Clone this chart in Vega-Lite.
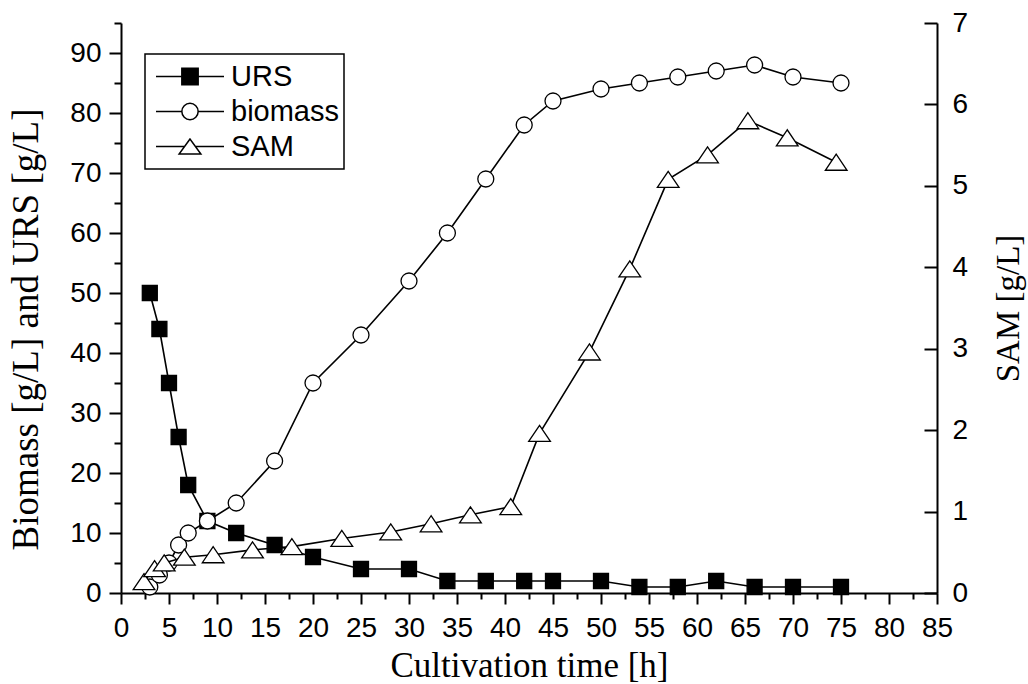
{
  "$schema": "https://vega.github.io/schema/vega-lite/v6.json",
  "width": 816,
  "height": 570,
  "autosize": "none",
  "padding": {"left": 121, "top": 23, "right": 91, "bottom": 91},
  "background": "white",
  "config": {
    "view": {"stroke": null},
    "axis": {
      "grid": false,
      "domainColor": "black",
      "domainWidth": 2,
      "tickColor": "black",
      "tickWidth": 2,
      "labelColor": "black",
      "labelFont": "Liberation Sans",
      "labelFontSize": 28,
      "labelFlush": false,
      "labelOverlap": false,
      "titleColor": "black",
      "titleFont": "Liberation Serif",
      "titleFontWeight": "normal"
    },
    "legend": {"strokeWidth": 1.5, "symbolStrokeWidth": 1.5}
  },
  "data": {
    "values": [
      {"series": "URS", "t": 3, "v": 50},
      {"series": "URS", "t": 4, "v": 44},
      {"series": "URS", "t": 5, "v": 35},
      {"series": "URS", "t": 6, "v": 26},
      {"series": "URS", "t": 7, "v": 18},
      {"series": "URS", "t": 9, "v": 12},
      {"series": "URS", "t": 12, "v": 10},
      {"series": "URS", "t": 16, "v": 8},
      {"series": "URS", "t": 20, "v": 6},
      {"series": "URS", "t": 25, "v": 4},
      {"series": "URS", "t": 30, "v": 4},
      {"series": "URS", "t": 34, "v": 2},
      {"series": "URS", "t": 38, "v": 2},
      {"series": "URS", "t": 42, "v": 2},
      {"series": "URS", "t": 45, "v": 2},
      {"series": "URS", "t": 50, "v": 2},
      {"series": "URS", "t": 54, "v": 1},
      {"series": "URS", "t": 58, "v": 1},
      {"series": "URS", "t": 62, "v": 2},
      {"series": "URS", "t": 66, "v": 1},
      {"series": "URS", "t": 70, "v": 1},
      {"series": "URS", "t": 75, "v": 1},
      {"series": "biomass", "t": 3, "v": 1},
      {"series": "biomass", "t": 4, "v": 3},
      {"series": "biomass", "t": 5, "v": 5},
      {"series": "biomass", "t": 6, "v": 8},
      {"series": "biomass", "t": 7, "v": 10},
      {"series": "biomass", "t": 9, "v": 12},
      {"series": "biomass", "t": 12, "v": 15},
      {"series": "biomass", "t": 16, "v": 22},
      {"series": "biomass", "t": 20, "v": 35},
      {"series": "biomass", "t": 25, "v": 43},
      {"series": "biomass", "t": 30, "v": 52},
      {"series": "biomass", "t": 34, "v": 60},
      {"series": "biomass", "t": 38, "v": 69},
      {"series": "biomass", "t": 42, "v": 78},
      {"series": "biomass", "t": 45, "v": 82},
      {"series": "biomass", "t": 50, "v": 84},
      {"series": "biomass", "t": 54, "v": 85},
      {"series": "biomass", "t": 58, "v": 86},
      {"series": "biomass", "t": 62, "v": 87},
      {"series": "biomass", "t": 66, "v": 88},
      {"series": "biomass", "t": 70, "v": 86},
      {"series": "biomass", "t": 75, "v": 85},
      {"series": "SAM", "t": 2.4, "v": 0.14},
      {"series": "SAM", "t": 3.5, "v": 0.3},
      {"series": "SAM", "t": 4.5, "v": 0.37},
      {"series": "SAM", "t": 6.6, "v": 0.44},
      {"series": "SAM", "t": 9.6, "v": 0.47},
      {"series": "SAM", "t": 13.7, "v": 0.53},
      {"series": "SAM", "t": 17.8, "v": 0.57},
      {"series": "SAM", "t": 23, "v": 0.67},
      {"series": "SAM", "t": 28.1, "v": 0.75},
      {"series": "SAM", "t": 32.3, "v": 0.85},
      {"series": "SAM", "t": 36.4, "v": 0.96},
      {"series": "SAM", "t": 40.6, "v": 1.06},
      {"series": "SAM", "t": 43.6, "v": 1.96},
      {"series": "SAM", "t": 48.8, "v": 2.96},
      {"series": "SAM", "t": 53, "v": 3.98},
      {"series": "SAM", "t": 57, "v": 5.08},
      {"series": "SAM", "t": 61.1, "v": 5.38},
      {"series": "SAM", "t": 65.3, "v": 5.8},
      {"series": "SAM", "t": 69.4, "v": 5.59},
      {"series": "SAM", "t": 74.5, "v": 5.29}
    ]
  },
  "encoding": {
    "x": {
      "field": "t",
      "type": "quantitative",
      "scale": {"domain": [0, 85], "nice": false, "zero": false},
      "axis": {
        "title": "Cultivation time [h]",
        "titleFontSize": 35,
        "titlePadding": 6,
        "values": [0,2.5,5,7.5,10,12.5,15,17.5,20,22.5,25,27.5,30,32.5,35,37.5,40,42.5,45,47.5,50,52.5,55,57.5,60,62.5,65,67.5,70,72.5,75,77.5,80,82.5,85],
        "labelExpr": "datum.value % 5 === 0 ? datum.label : ''",
        "tickSize": {"condition": {"test": "datum.value % 5 === 0", "value": 11}, "value": 6},
        "labelPadding": 10
      }
    }
  },
  "layer": [
    {
      "transform": [{"filter": "datum.series !== 'SAM'"}],
      "encoding": {
        "y": {
          "field": "v",
          "type": "quantitative",
          "scale": {"domain": [0, 95], "nice": false, "zero": false},
          "axis": {
            "title": "Biomass [g/L] and URS [g/L]",
            "titleFontSize": 37,
            "titlePadding": 24,
            "titleY": 306,
            "values": [0,5,10,15,20,25,30,35,40,45,50,55,60,65,70,75,80,85,90,95],
            "labelExpr": "datum.value % 10 === 0 ? datum.label : ''",
            "tickSize": {"condition": {"test": "datum.value % 10 === 0", "value": 12}, "value": 7},
            "labelPadding": 8
          }
        }
      },
      "layer": [
        {
          "mark": {"type": "line", "color": "black", "strokeWidth": 1.6},
          "encoding": {"detail": {"field": "series"}}
        },
        {
          "transform": [{"filter": "datum.series === 'URS'"}],
          "mark": {"type": "point", "shape": "M-0.69,-0.69H0.69V0.69H-0.69Z", "filled": true, "fill": "black", "stroke": "black", "strokeWidth": 1.3, "size": 471, "opacity": 1}
        },
        {
          "transform": [{"filter": "datum.series === 'biomass'"}],
          "mark": {"type": "point", "shape": "M0.737,0A0.737,0.737,0,1,1,-0.737,0A0.737,0.737,0,1,1,0.737,0Z", "filled": true, "fill": "white", "stroke": "black", "strokeWidth": 1.3, "size": 471, "opacity": 1}
        },
        {
          "transform": [{"filter": "false"}],
          "mark": {"type": "point", "filled": true, "strokeWidth": 1.5, "opacity": 1},
          "encoding": {
            "shape": {
              "field": "series",
              "type": "nominal",
              "scale": {
                "domain": ["URS", "biomass", "SAM"],
                "range": [
                  "M-1,0H-0.24M0.24,0H1M-0.24,-0.24H0.24V0.24H-0.24Z",
                  "M-1,0H-0.24M0.24,0H1M0.24,0A0.24,0.24,0,1,1,-0.24,0A0.24,0.24,0,1,1,0.24,0Z",
                  "M-1,0H-0.16M0.16,0H1M0,-0.22L-0.32,0.22H0.32Z"
                ]
              },
              "legend": {
                "title": null,
                "orient": "none",
                "legendX": 24,
                "legendY": 31,
                "padding": 5,
                "symbolOffset": 5,
                "symbolSize": 4624,
                "symbolStrokeWidth": 1.5,
                "clipHeight": 35,
                "rowPadding": 0,
                "labelOffset": 6,
                "labelFont": "Liberation Sans",
                "labelFontSize": 29,
                "labelColor": "black",
                "strokeColor": "black",
                "fillColor": "white"
              }
            },
            "fill": {
              "field": "series",
              "type": "nominal",
              "scale": {"domain": ["URS", "biomass", "SAM"], "range": ["black", "white", "white"]},
              "legend": {"title": null, "orient": "none", "legendX": 24, "legendY": 31}
            },
            "stroke": {
              "field": "series",
              "type": "nominal",
              "scale": {"domain": ["URS", "biomass", "SAM"], "range": ["black", "black", "black"]},
              "legend": {"title": null, "orient": "none", "legendX": 24, "legendY": 31}
            }
          }
        }
      ]
    },
    {
      "transform": [{"filter": "datum.series === 'SAM'"}],
      "encoding": {
        "y": {
          "field": "v",
          "type": "quantitative",
          "scale": {"domain": [0, 7], "nice": false, "zero": false},
          "axis": {
            "orient": "right",
            "title": "SAM [g/L]",
            "titleFontSize": 33,
            "titleAngle": 270,
            "titleBaseline": "top",
            "titlePadding": 25,
            "format": "d",
            "values": [0,0.5,1,1.5,2,2.5,3,3.5,4,4.5,5,5.5,6,6.5,7],
            "labelExpr": "datum.value % 1 === 0 ? datum.label : ''",
            "tickSize": {"condition": {"test": "datum.value % 1 === 0", "value": -13}, "value": -8},
            "labelPadding": 28
          }
        }
      },
      "layer": [
        {
          "mark": {"type": "line", "color": "black", "strokeWidth": 1.6},
          "encoding": {"detail": {"field": "series"}}
        },
        {
          "mark": {"type": "point", "shape": "M0,-0.74L-1,0.74L1,0.74Z", "filled": true, "fill": "white", "stroke": "black", "strokeWidth": 1.3, "size": 471, "opacity": 1}
        }
      ]
    }
  ],
  "resolve": {"scale": {"y": "independent"}}
}
